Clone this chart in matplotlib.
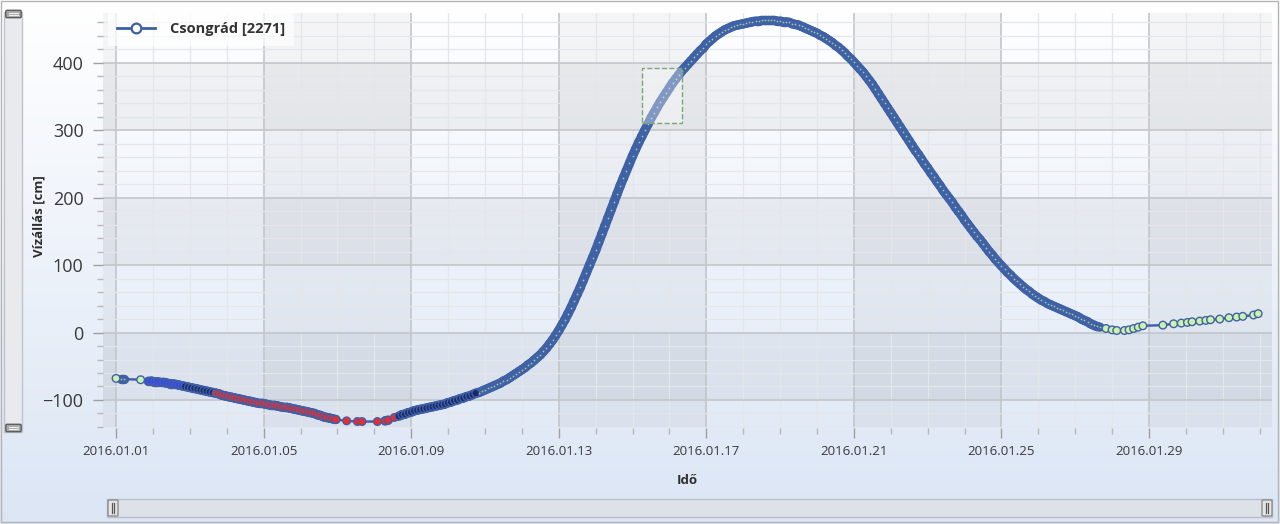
import numpy as np
import pandas as pd
import matplotlib
matplotlib.use("Agg")
import matplotlib.pyplot as plt
import matplotlib.dates as mdates
from matplotlib.patches import Rectangle, FancyBboxPatch
from matplotlib.lines import Line2D
from matplotlib.collections import LineCollection
from matplotlib.ticker import MultipleLocator, FixedLocator

station = "Csongrád [2271]"
start = pd.Timestamp("2016-01-01")

# hours after 2016.01.01 00:00 and water level [cm]
h_start = [0, 3, 5, 16]
v_start = [-68, -69, -69, -70]

h_fall = list(range(21, 142, 2))
v_fall = [-72, -72, -73, -73, -74, -74, -75, -76, -76, -77, -78, -79,
          -80, -81, -82, -83, -84, -85, -86, -87, -88, -89, -90, -91,
          -93, -94, -95, -96, -97, -98, -99, -100, -101, -102, -103, -104,
          -105, -105, -106, -107, -108, -108, -109, -110, -111, -111, -112, -113,
          -114, -115, -116, -117, -118, -119, -120, -122, -123, -125, -126, -127,
          -128]

h_low = [143, 150, 157, 160, 170, 175, 177, 181]
v_low = [-129, -131, -132, -132, -132, -131, -130, -126]

h_wave = list(range(184, 641, 2))
v_wave = [-124, -122, -121, -119, -118, -116, -115, -114, -113, -112, -111, -110,
          -109, -108, -107, -106, -104, -103, -101, -100, -98, -97, -95, -94,
          -92, -90, -89, -87, -85, -83, -81, -79, -77, -75, -72, -70,
          -67, -64, -61, -58, -55, -52, -48, -45, -41, -37, -33, -28,
          -23, -17, -11, -4, 3, 11, 19, 28, 37, 47, 57, 67,
          78, 89, 100, 111, 122, 134, 146, 158, 170, 182, 194, 206,
          218, 229, 240, 251, 262, 272, 282, 291, 300, 309, 318, 326,
          334, 342, 349, 356, 363, 370, 376, 382, 388, 393, 398, 403,
          408, 413, 418, 422, 428, 432, 436, 440, 443, 446, 449, 451,
          453, 455, 456, 457, 458, 459, 460, 461, 462, 462, 463, 463,
          463, 463, 463, 462, 462, 461, 461, 460, 458, 457, 456, 454,
          452, 450, 448, 446, 444, 441, 439, 436, 433, 430, 426, 423,
          419, 415, 410, 406, 401, 396, 391, 386, 380, 374, 368, 361,
          354, 347, 340, 333, 326, 319, 312, 305, 298, 291, 284, 277,
          270, 264, 257, 250, 244, 237, 231, 224, 218, 211, 205, 199,
          193, 186, 180, 174, 167, 161, 155, 149, 143, 138, 132, 126,
          120, 115, 109, 104, 99, 94, 89, 85, 80, 76, 72, 68,
          64, 61, 57, 54, 51, 48, 46, 43, 41, 39, 37, 35,
          33, 31, 29, 27, 25, 23, 20, 18, 16, 13, 11, 9,
          8]

h_flat = [644, 648, 651, 656, 659, 662, 665, 668]
v_flat = [6, 4, 3, 3, 4, 6, 8, 10]

h_end = [681, 688, 693, 697, 700, 705, 709, 712, 718, 724, 729, 733, 740, 743]
v_end = [11, 13, 14, 15, 16, 17, 18, 19, 20, 22, 23, 24, 26, 28]

# marker fill changes at these hours (quality flags)
flag_edges = [18, 44, 65, 182, 235]
flag_colors = ["#cdf2ad", "#3b44f0", "#1a2668", "#f42828", "#1a2668", "#cdf2ad"]
green = "#cdf2ad"

# dashed selection box
sel_hours = (342, 368)
sel_levels = (311, 393)

hours = np.array(h_start + h_fall + h_low + h_wave + h_flat + h_end, dtype=float)
level = np.array(v_start + v_fall + v_low + v_wave + v_flat + v_end, dtype=float)
assert len(hours) == len(level)
times = start + pd.to_timedelta(hours, unit="h")
tnum = mdates.date2num(times.to_pydatetime())
fills = np.array([flag_colors[i] for i in np.searchsorted(flag_edges, hours, side="right")])

plt.rcParams["font.family"] = ["Open Sans", "DejaVu Sans"]

W, H = 1280, 524
fig = plt.figure(figsize=(W / 100, H / 100), dpi=100)

# window background, scroll bars
bg = fig.add_axes([0, 0, 1, 1], zorder=-5)
bg.set_xlim(0, W)
bg.set_ylim(H, 0)
bg.axis("off")
g = np.linspace(0, 1, 256)[:, None, None]
top = np.array([1.0, 1.0, 1.0])
bottom = np.array([0.86, 0.90, 0.96])
bg.imshow(top + (bottom - top) * g, extent=(0, W, H, 0), aspect="auto",
          interpolation="bilinear")
bg.add_patch(Rectangle((1, 1), W - 3, H - 3, fill=False, ec="#b5b5b5", lw=1))

bg.add_patch(Rectangle((4, 12), 18, 420, fc="#e8eaed", ec="#c0c4ca", lw=1))
for gy in (14, 428):
    bg.add_patch(FancyBboxPatch((7, gy - 2.5), 13, 5, boxstyle="round,pad=1.2",
                                fc="#a8a8a8", ec="#5e5e5e", lw=1))
    bg.plot([9, 18], [gy - 0.8, gy - 0.8], color="#f0f0f0", lw=0.8)
    bg.plot([9, 18], [gy + 1.2, gy + 1.2], color="#f0f0f0", lw=0.8)

bg.add_patch(Rectangle((107, 499), 1165, 18, fc="#dde2e9", ec="#b7bec8", lw=1))
for gx in (113, 1267):
    bg.add_patch(FancyBboxPatch((gx - 4, 501), 8, 14, boxstyle="round,pad=1",
                                fc="#e6e6e6", ec="#8c8c8c", lw=1))
    bg.plot([gx - 1, gx - 1], [503, 513], color="#555555", lw=0.9)
    bg.plot([gx + 1.2, gx + 1.2], [503, 513], color="#555555", lw=0.9)

# plot area
ax = fig.add_axes([103 / W, 1 - 428 / H, 1169 / W, 415 / H], zorder=1)
ax.set_facecolor("none")
x0 = start - pd.Timedelta(hours=8.5)
x1 = start + pd.Timedelta(hours=752)
ax.set_xlim(x0, x1)
ax.set_ylim(-141.6, 474)

for d in pd.date_range("2015-12-28", "2016-02-03", freq="4D"):
    k = (d - start).days // 4
    if k % 2:
        ax.axvspan(d, d + pd.Timedelta(days=4), color="black", alpha=0.035,
                   lw=0, zorder=0.1)
for lo in (-100, 100, 300):
    ax.axhspan(lo, lo + 100, color="black", alpha=0.04, lw=0, zorder=0.1)

major_days = pd.date_range("2016-01-01", "2016-01-29", freq="4D")
ax.xaxis.set_major_locator(FixedLocator(mdates.date2num(major_days.to_pydatetime())))
ax.xaxis.set_minor_locator(mdates.DayLocator())
ax.xaxis.set_major_formatter(mdates.DateFormatter("%Y.%m.%d"))
ax.yaxis.set_major_locator(MultipleLocator(100))
ax.yaxis.set_minor_locator(MultipleLocator(20))

ax.set_axisbelow(True)
ax.grid(which="major", color="#c3c6ca", lw=1.2)
ax.grid(which="minor", color="#e4e6ea", lw=0.9)
for s in ax.spines.values():
    s.set_visible(False)

ax.tick_params(axis="both", which="major", length=7, width=1, color="#a0a0a0",
               labelcolor="#3a3a3a")
ax.tick_params(axis="both", which="minor", length=4, width=1, color="#b8b8b8")
ax.tick_params(axis="y", which="major", labelsize=13, pad=7)
ax.tick_params(axis="x", which="major", labelsize=9.5, pad=5)

# thin connecting line
edge = "#3f61a6"
ax.plot(tnum, level, color="#4264a8", lw=1.8, zorder=3)

# where readings come every two hours the markers merge into one band
gap = np.diff(hours)
close = gap <= 2.5
pts = np.column_stack([tnum, level])
segs = np.stack([pts[:-1], pts[1:]], axis=1)[close]
ax.add_collection(LineCollection(segs, colors=edge, linewidths=6.8,
                                 capstyle="round", zorder=3.5))

dense = np.zeros(len(hours), bool)
dense[:-1] |= close
dense[1:] |= close
speck = dense & (fills == green)
full = ~speck
ax.scatter(tnum[full], level[full], s=30, c=fills[full], edgecolors=edge,
           linewidths=1.0, zorder=4)
ax.scatter(tnum[speck], level[speck], s=1.6, c="#b9dfa3", alpha=0.8,
           linewidths=0, zorder=4.2)

sx0 = mdates.date2num(start + pd.Timedelta(hours=sel_hours[0]))
sx1 = mdates.date2num(start + pd.Timedelta(hours=sel_hours[1]))
ax.add_patch(Rectangle((sx0, sel_levels[0]), sx1 - sx0, sel_levels[1] - sel_levels[0],
                       fc=(1, 1, 1, 0.35), ec="#78a878", ls="--", lw=1, zorder=5))

ax.set_ylabel("Vízállás [cm]", fontsize=9.5, fontweight="bold", color="#2e2e2e")
ax.yaxis.set_label_coords(-0.049, 0.51)
ax.set_xlabel("Idő", fontsize=9.5, fontweight="bold", color="#2e2e2e")
ax.xaxis.set_label_coords(0.5, -0.112)

proxy = Line2D([], [], color="#3d5fa3", lw=2, marker="o", ms=7, mfc="white",
               mec="#3d5fa3", mew=1.6)
leg = ax.legend([proxy], [station], loc="upper left", bbox_to_anchor=(0.004, 1.0),
                borderaxespad=0, fancybox=False, handlelength=2.6,
                handletextpad=1.0, borderpad=0.65,
                prop=dict(weight="bold", size=10.5))
leg.get_frame().set_facecolor("white")
leg.get_frame().set_alpha(0.7)
leg.get_frame().set_edgecolor("none")
for t in leg.get_texts():
    t.set_color("#333333")
leg.set_zorder(6)

fig.savefig("out.png", dpi=100)
